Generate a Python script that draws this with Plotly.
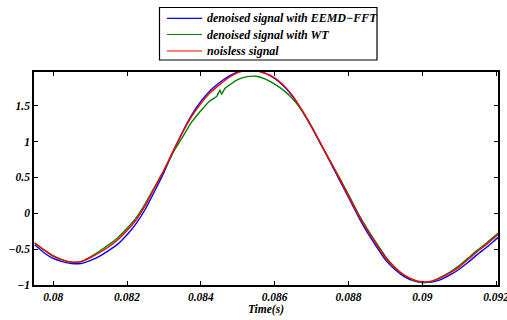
import plotly.graph_objects as go

t = [0.07950, 0.07975, 0.08000, 0.08025, 0.08050, 0.08075, 0.08100, 0.08125, 0.08150, 0.08175,
     0.08200, 0.08225, 0.08250, 0.08275, 0.08300, 0.08325, 0.08350, 0.08375, 0.08400, 0.08425,
     0.08450, 0.08475, 0.08500, 0.08525, 0.08550, 0.08575, 0.08600, 0.08625, 0.08650, 0.08675,
     0.08700, 0.08725, 0.08750, 0.08775, 0.08800, 0.08825, 0.08850, 0.08875, 0.08900, 0.08925,
     0.08950, 0.08975, 0.09000, 0.09025, 0.09050, 0.09075, 0.09100, 0.09125, 0.09150, 0.09175,
     0.09200, 0.09225]

noiseless = [-0.41, -0.51, -0.60, -0.65, -0.68, -0.675, -0.62, -0.55, -0.47, -0.37,
             -0.24, -0.09, 0.11, 0.36, 0.60, 0.87, 1.12, 1.35, 1.53, 1.68,
             1.79, 1.89, 1.96, 1.995, 1.99, 1.95, 1.89, 1.78, 1.63, 1.43,
             1.21, 0.97, 0.73, 0.49, 0.24, -0.01, -0.23, -0.43, -0.62, -0.76,
             -0.86, -0.925, -0.955, -0.945, -0.90, -0.83, -0.75, -0.64, -0.53, -0.43,
             -0.32, -0.21]

eemd_fft = [-0.44, -0.55, -0.63, -0.675, -0.70, -0.70, -0.66, -0.60, -0.52, -0.43,
            -0.30, -0.14, 0.06, 0.31, 0.57, 0.86, 1.13, 1.37, 1.56, 1.71,
            1.82, 1.91, 1.97, 2.00, 1.99, 1.95, 1.88, 1.77, 1.62, 1.42,
            1.20, 0.96, 0.72, 0.47, 0.22, -0.03, -0.26, -0.46, -0.65, -0.78,
            -0.88, -0.94, -0.965, -0.96, -0.925, -0.86, -0.78, -0.68, -0.57, -0.47,
            -0.36, -0.25]

t_wt = [0.07950, 0.07975, 0.08000, 0.08025, 0.08050, 0.08075, 0.08100, 0.08125, 0.08150, 0.08175,
        0.08200, 0.08225, 0.08250, 0.08275, 0.08300, 0.08325, 0.08350, 0.08375, 0.08400, 0.08425,
        0.08443, 0.08452, 0.08456, 0.08465, 0.08475, 0.08500, 0.08525, 0.08550, 0.08575, 0.08600,
        0.08625, 0.08650, 0.08675, 0.08700, 0.08725, 0.08750, 0.08775, 0.08800, 0.08825, 0.08850,
        0.08875, 0.08900, 0.08925, 0.08950, 0.08975, 0.09000, 0.09025, 0.09050, 0.09075, 0.09100,
        0.09125, 0.09150, 0.09175, 0.09200, 0.09225]

wt = [-0.42, -0.51, -0.59, -0.65, -0.685, -0.675, -0.61, -0.53, -0.44, -0.34,
      -0.21, -0.06, 0.14, 0.37, 0.60, 0.85, 1.06, 1.27, 1.43, 1.57,
      1.63, 1.72, 1.66, 1.74, 1.78, 1.865, 1.905, 1.91, 1.87, 1.80,
      1.71, 1.59, 1.42, 1.21, 0.97, 0.73, 0.50, 0.26, 0.01, -0.21,
      -0.41, -0.60, -0.75, -0.86, -0.93, -0.965, -0.95, -0.89, -0.82, -0.73,
      -0.62, -0.51, -0.41, -0.30, -0.19]

series_names = ["denoised signal with EEMD\u2212FFT", "denoised signal with WT", "noisless signal"]
series_colors = ["#0000ff", "#008000", "#ff0000"]

x_ticks = [0.080, 0.082, 0.084, 0.086, 0.088, 0.090, 0.092]
x_tick_labels = ["0.08", "0.082", "0.084", "0.086", "0.088", "0.09", "0.092"]
y_ticks = [-1, -0.5, 0, 0.5, 1, 1.5]
y_tick_labels = ["\u22121", "\u22120.5", "0", "0.5", "1", "1.5"]

font_family = '"Liberation Serif", "Times New Roman", Times, serif'
fs = 11.5
legend_fs = 12

fig = go.Figure()
xs = [t, t_wt, t]
ys = [eemd_fft, wt, noiseless]
for xv, yv, nm, col in zip(xs, ys, series_names, series_colors):
    fig.add_trace(go.Scatter(x=xv, y=yv, mode="lines", name=nm, showlegend=False,
                             line=dict(color=col, width=1.4, shape="spline", smoothing=0.5)))

axis_common = dict(showline=True, linecolor="black", linewidth=1.5, mirror="ticks",
                   ticks="inside", ticklen=4, tickcolor="black", tickwidth=1,
                   showgrid=False, zeroline=False, ticklabeloverflow="allow",
                   automargin=False,
                   tickfont=dict(family=font_family, size=fs, color="black"))

fig.update_xaxes(range=[0.07948, 0.09205], tickvals=x_ticks,
                 ticktext=["<b><i>%s</i></b>" % s for s in x_tick_labels],
                 title=dict(text="<b><i>Time(s)</i></b>", font=dict(family=font_family, size=fs, color="black"),
                            standoff=2),
                 **axis_common)
fig.update_yaxes(range=[-1, 1.97], tickvals=y_ticks,
                 ticktext=["<b><i>%s</i></b>" % s for s in y_tick_labels],
                 **axis_common)

# Manual legend box (paper coordinates derived from pixel layout of plot area)
L, R, T, B = 34, 498, 72, 285
def px_x(p):
    return (p - L) / (R - L)
def px_y(p):
    return (B - p) / (B - T)

shapes = [dict(type="rect", xref="paper", yref="paper",
               x0=px_x(159.5), x1=px_x(377), y0=px_y(7.5), y1=px_y(60),
               line=dict(color="black", width=1.2), fillcolor="white", layer="above")]
annotations = []
row_y = [18.3, 34.5, 51]
for ry, nm, col in zip(row_y, series_names, series_colors):
    shapes.append(dict(type="line", xref="paper", yref="paper",
                       x0=px_x(167), x1=px_x(202), y0=px_y(ry), y1=px_y(ry),
                       line=dict(color=col, width=1.2), layer="above"))
    annotations.append(dict(xref="paper", yref="paper", x=px_x(205), y=px_y(ry),
                            xanchor="left", yanchor="middle", showarrow=False,
                            text="<b><i>%s</i></b>" % nm,
                            font=dict(family=font_family, size=legend_fs, color="black")))

fig.update_layout(
    width=507, height=320,
    margin=dict(l=L, r=507 - R, t=T, b=320 - B),
    paper_bgcolor="white", plot_bgcolor="white",
    showlegend=False,
    shapes=shapes, annotations=annotations,
)

fig.write_html("out.html")
